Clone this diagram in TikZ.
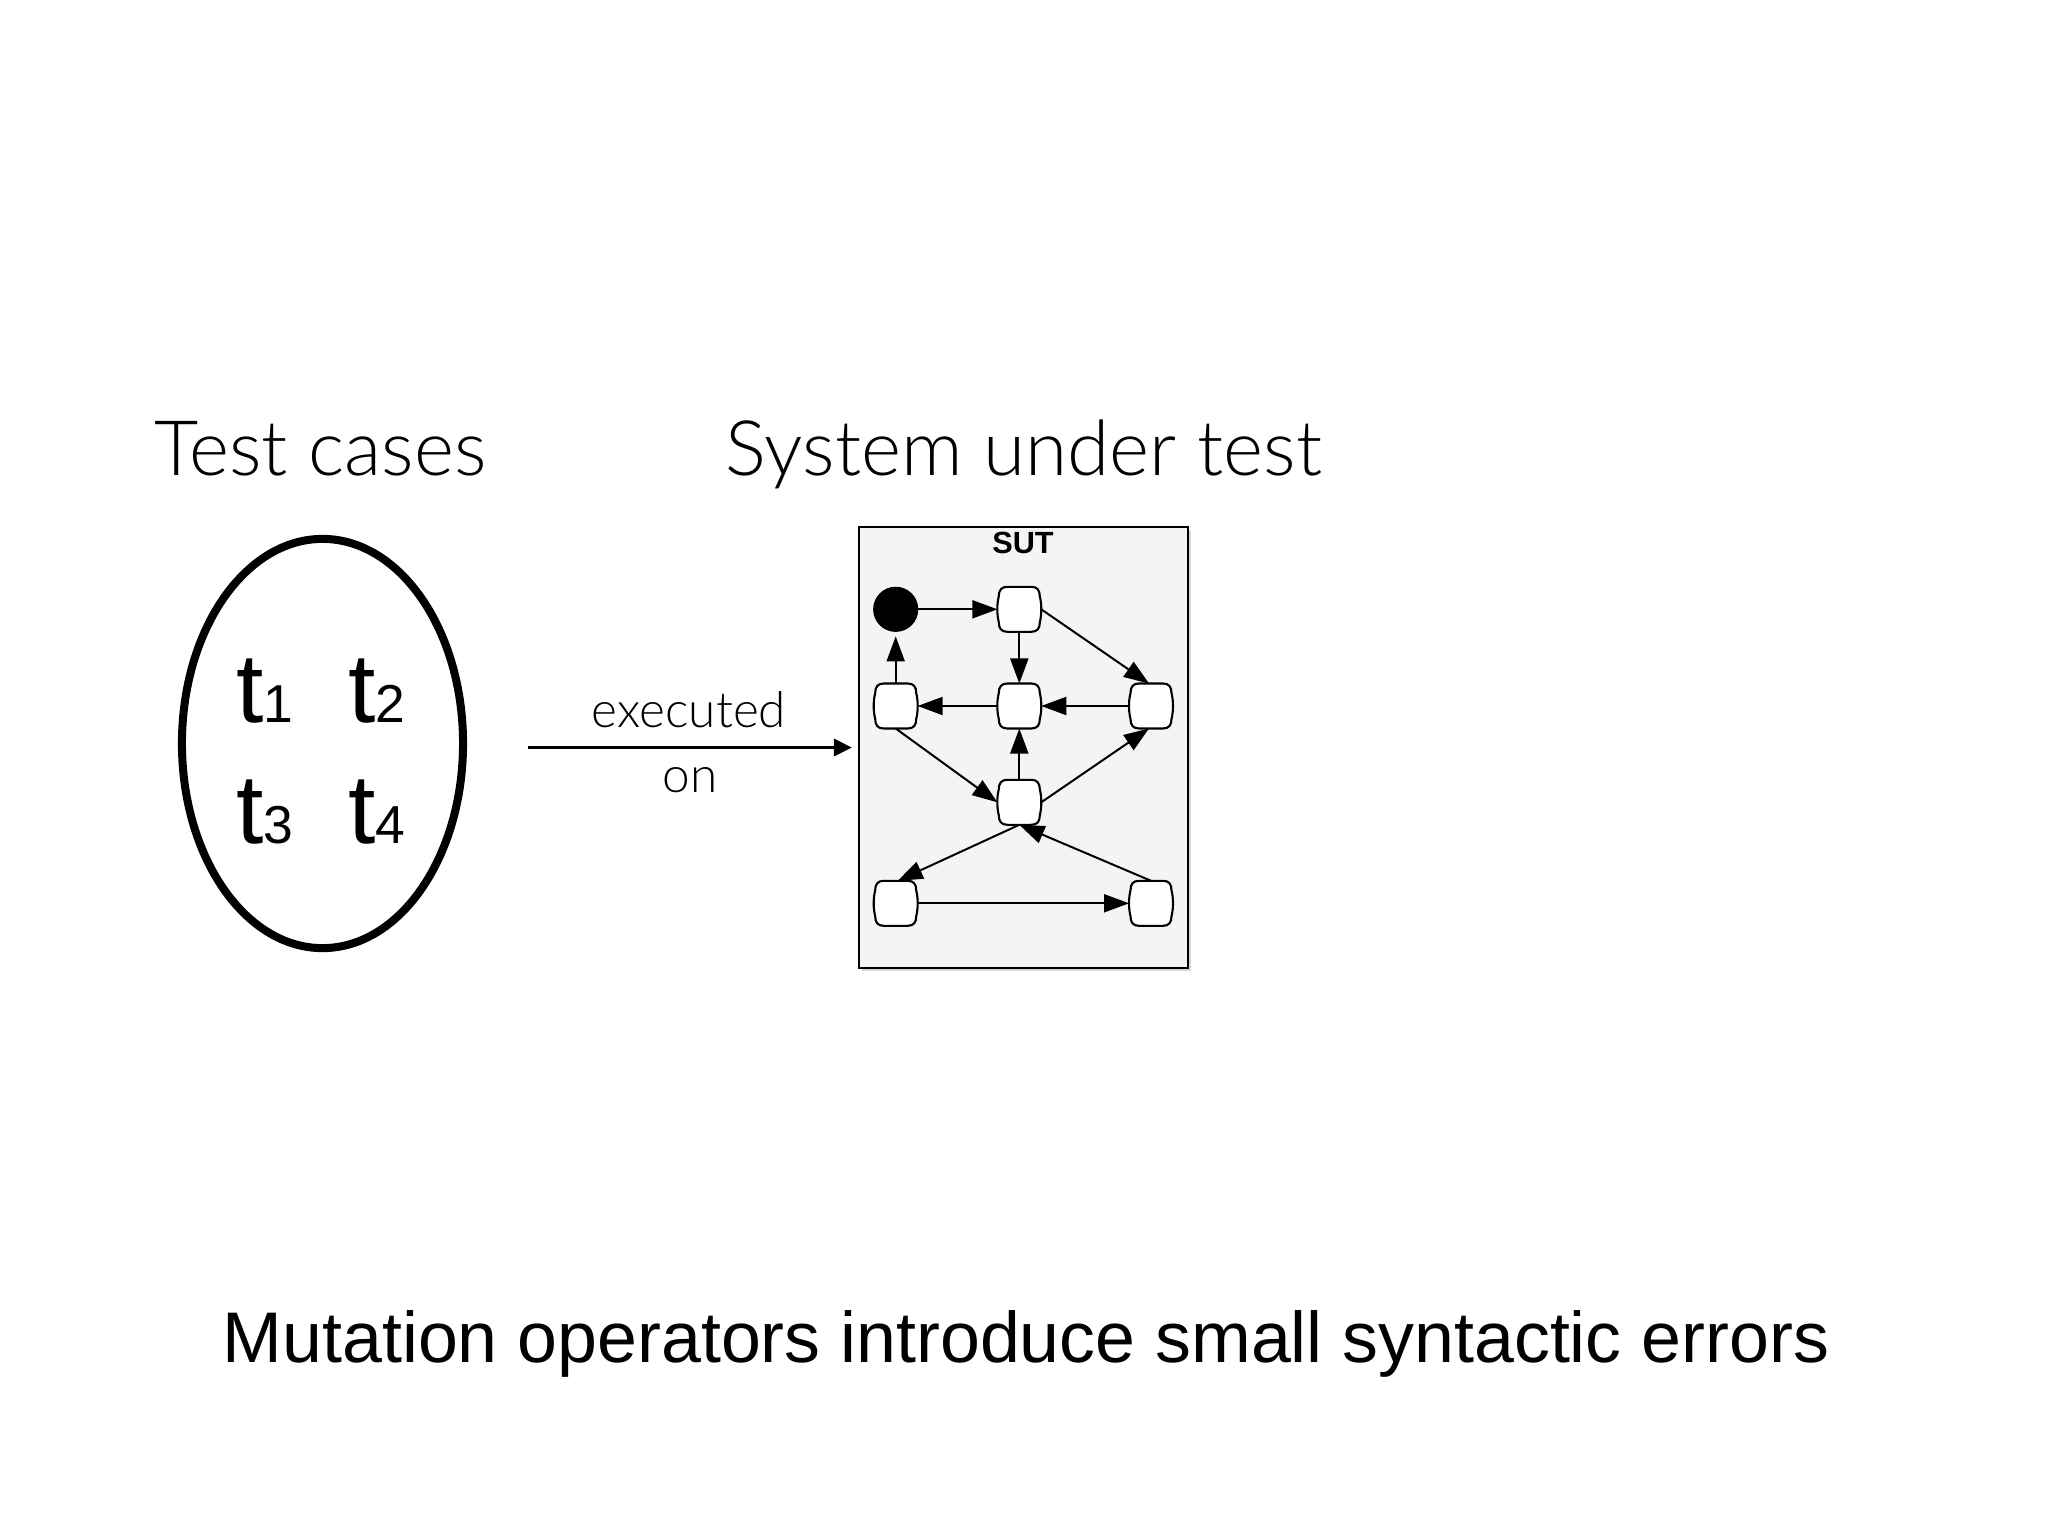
\documentclass[tikz,border=0pt]{standalone}
\usepackage{fontspec}
\setmainfont{Liberation Sans}
\newfontfamily\lightfont{Lato Light}
\usetikzlibrary{arrows.meta,shadows,shapes.geometric,calc}
\definecolor{sutfill}{HTML}{F4F4F4}
\newcommand\stnode[3]{%
  \node[stbox] (#1) at (#2,#3) {};
  \draw[stline,shift={(#2,#3)}] (-12,-22.5) -- (12,-22.5)
    .. controls (18,-22.5) and (20.5,-19) .. (20.5,-13)
    .. controls (22.5,-5) and (22.5,5) .. (20.5,13)
    .. controls (20.5,19) and (18,22.5) .. (12,22.5) -- (-12,22.5)
    .. controls (-18,22.5) and (-20.5,19) .. (-20.5,13)
    .. controls (-22.5,5) and (-22.5,-5) .. (-20.5,-13)
    .. controls (-20.5,-19) and (-18,-22.5) .. (-12,-22.5) -- cycle;}
\begin{document}
\begin{tikzpicture}[x=0.0125cm,y=-0.0125cm,
  stline/.style={line width=0.75pt, fill=white, draw=black},
  stbox/.style={rectangle, minimum width=15.6pt, minimum height=16pt, inner sep=0pt, outer sep=0pt},
  tr/.style={line width=0.71pt, -{Triangle[length=8.9pt,width=6.4pt]}},
  bigarrow/.style={line width=1.2pt, -{Triangle[length=6.4pt,width=6pt]}},
  title/.style={font=\lightfont\fontsize{27.2pt}{32pt}\selectfont, inner sep=0pt, anchor=base},
  lab/.style={font=\lightfont\fontsize{17.6pt}{20pt}\selectfont, inner sep=0pt, anchor=base},
  tc/.style={inner sep=0pt, anchor=base west},
]
\useasboundingbox[fill=white] (0,0) rectangle (2048,1536);

% titles
\node[title] (ttc) at (320.5,475) {Test cases};
\node[title] (tsut) at (1024,475) {System under test};

% test case set
\node[ellipse, draw=black, line width=2.85pt, fill=white, minimum width=99.95pt, minimum height=145.5pt,
      drop shadow={shadow xshift=1pt, shadow yshift=-1.2pt, opacity=0.25}] (set) at (322.5,743.5) {};
\newcommand\tcase[1]{{\fontsize{35pt}{35pt}\selectfont t}{\fontsize{19pt}{19pt}\selectfont #1}}
\node[tc] (t1) at (236,722) {\tcase{1}};
\node[tc] (t2) at (348,722) {\tcase{2}};
\node[tc] (t3) at (236,843) {\tcase{3}};
\node[tc] (t4) at (348,843) {\tcase{4}};

% SUT box
\node[draw=black, line width=0.8pt, fill=sutfill, minimum width=117pt, minimum height=156.9pt, inner sep=0pt,
      drop shadow={shadow xshift=1pt, shadow yshift=-1pt, opacity=0.3}] (sut) at (1023.5,747.5) {};
\node[font=\bfseries\fontsize{10.9pt}{12pt}\selectfont, inner sep=0pt] (sutlabel) at (1023,543) {SUT};

% arrow
\coordinate (arrS) at (528,747.5);
\draw[bigarrow, shorten >=2.1pt] (arrS) -- (sut.west);
\node[lab] (exe) at (689,727) {executed};
\node[lab] (on) at (690,792) {on};

% states
\node[circle, fill=black, draw=black, minimum size=15.65pt, inner sep=0pt] (init) at (895.7,609.3) {};
\stnode{A}{1019.3}{609.3}
\stnode{B}{895.7}{706}
\stnode{C}{1019.3}{706}
\stnode{D}{1151}{706}
\stnode{E}{1019.3}{802.3}
\stnode{F}{895.7}{903.3}
\stnode{G}{1151}{903.3}

\draw[tr] (init) -- (A);
\draw[tr] (A) -- (C);
\draw[tr] (A.east) -- (D.95);
\draw[tr] (D) -- (C);
\draw[tr] (C) -- (B);
\draw[tr, shorten >=1.6pt] (B) -- (init);
\draw[tr] (B.south) -- (E.west);
\draw[tr] (E) -- (C);
\draw[tr] (E.east) -- (D.265);
\draw[tr] (E.south) -- (F.85);
\draw[tr] (F) -- (G);
\draw[tr] (G.north) -- (E.south);

% caption
\node[anchor=base, inner sep=0pt, font=\fontsize{25.5pt}{30pt}\selectfont] (caption) at (1026,1362)
  {Mutation operators introduce small syntactic errors};
\end{tikzpicture}
\end{document}
